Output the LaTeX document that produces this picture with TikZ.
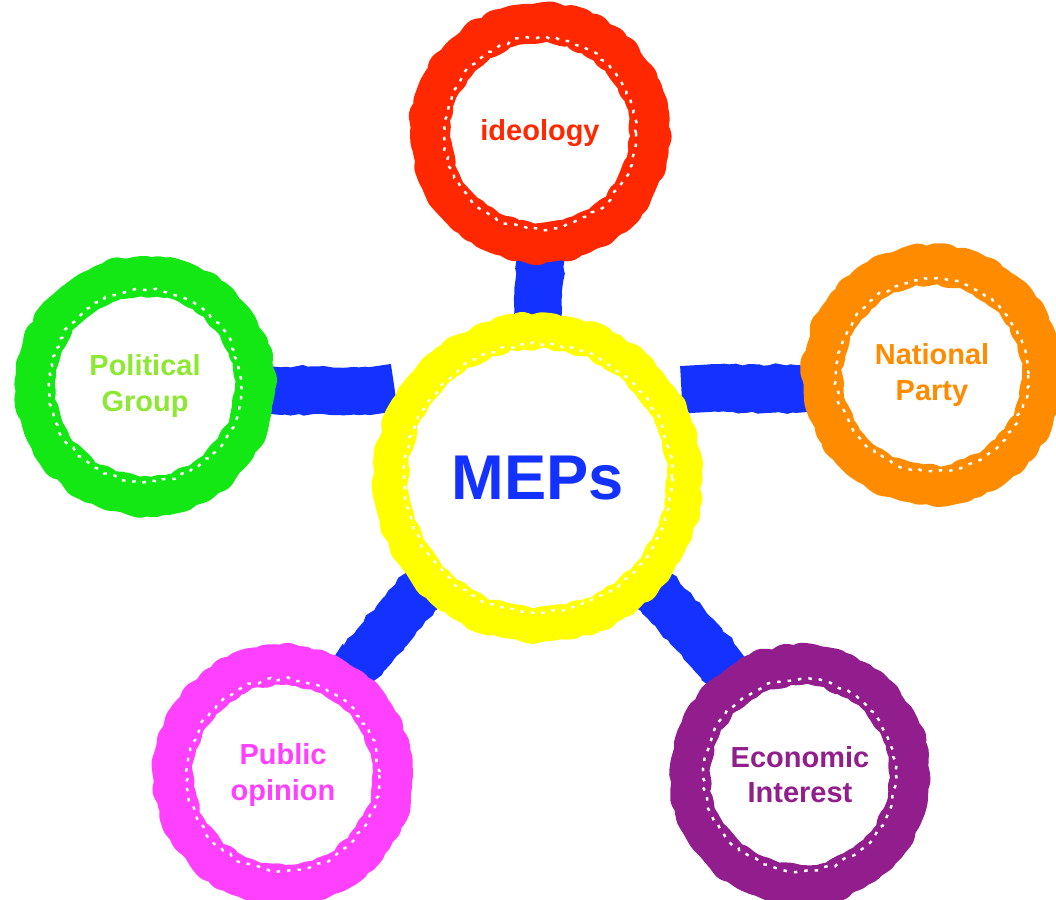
\documentclass[tikz,border=0pt]{standalone}
\usepackage{fontspec}
\setmainfont{Liberation Sans}
\usepackage{tikz}
\usetikzlibrary{decorations.pathmorphing,backgrounds}

\definecolor{mepred}{RGB}{255,40,0}
\definecolor{meporange}{RGB}{255,140,0}
\definecolor{mepgreen}{RGB}{20,232,20}
\definecolor{mepgreentext}{RGB}{140,232,50}
\definecolor{mepmagenta}{RGB}{255,64,255}
\definecolor{meppurple}{RGB}{145,30,140}
\definecolor{mepyellow}{RGB}{255,255,0}
\definecolor{mepblue}{RGB}{20,50,255}

\begin{document}
\pgfmathsetseed{7}
\begin{tikzpicture}[x=0.02cm,y=-0.02cm,
    ring/.style={circle, draw=#1, fill=white, line width=0.8cm, minimum size=4.4cm,
        line cap=round, line join=round,
        decorate, decoration={random steps, segment length=4pt, amplitude=1.2pt},
        font=\bfseries\fontsize{16.5}{20}\selectfont, align=center},
    bar/.style={draw=mepblue, line width=0.95cm, shorten <=-12pt, shorten >=-12pt,
        decorate, decoration={random steps, segment length=3pt, amplitude=0.6pt}},
    speckle/.style={draw=white, line width=1.4pt, dash pattern=on 2pt off 4pt,
        decorate, decoration={random steps, segment length=3pt, amplitude=1pt}}]
    \useasboundingbox (0,0) rectangle (1056,900);

    % Centre ring
    \node[ring=mepyellow, line width=0.7cm, minimum size=5.88cm,
        text=mepblue, font=\bfseries\fontsize{36}{40}\selectfont] (mep) at (538,478) {MEPs};

    % Outer rings
    \node[ring=mepred, text=mepred] (ideo) at (540,133) {ideology};
    \node[ring=mepgreen, text=mepgreentext] (polgroup) at (145,386) {Political\\Group};
    \node[ring=meporange, text=meporange] (natparty) at (932,375) {National\\Party};
    \node[ring=mepmagenta, text=mepmagenta] (public) at (283,775) {Public\\opinion};
    \node[ring=meppurple, text=meppurple] (econ) at (800,775) {Economic\\Interest};

    % White speckles along the inner edge of each ring
    \draw[speckle] (mep.center) circle (134);
    \foreach \r in {ideo,polgroup,natparty,public,econ}
        \draw[speckle] (\r.center) circle (96);

    % Blue links, tucked under the rings
    \begin{pgfonlayer}{background}
        \draw[bar] (ideo.south) -- (mep.north);
        \draw[bar] (polgroup.-2) -- (mep.west |- polgroup.-2);
        \draw[bar] (natparty.186) -- (mep.east |- natparty.186);
        \draw[bar, shorten <=7pt] (public.56) -- (mep.224);
        \draw[bar, shorten <=7pt] (econ.125) -- (mep.316);
    \end{pgfonlayer}
\end{tikzpicture}
\end{document}
